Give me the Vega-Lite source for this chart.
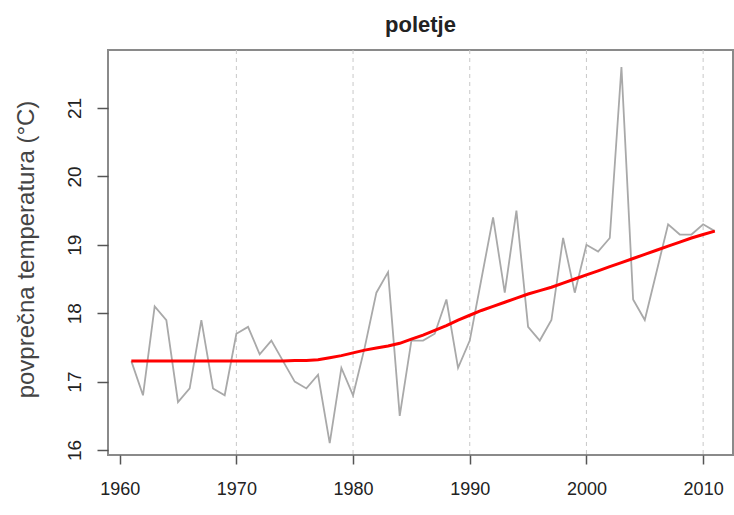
{
  "$schema": "https://vega.github.io/schema/vega-lite/v6.json",
  "width": 625,
  "height": 405,
  "autosize": {"type": "none"},
  "padding": {"left": 108, "top": 50, "right": 1, "bottom": 60},
  "background": "white",
  "config": {
    "font": "Liberation Sans",
    "view": {"stroke": "#8a8a8a", "strokeWidth": 2}
  },
  "title": {
    "text": "poletje",
    "fontSize": 22,
    "fontWeight": "bold",
    "color": "#222",
    "baseline": "alphabetic",
    "offset": 18,
    "dy": 22,
    "anchor": "middle"
  },
  "datasets": {
    "grid": [{"year": 1970}, {"year": 1980}, {"year": 1990}, {"year": 2000}, {"year": 2010}],
    "temps": [
      {"year": 1961, "temp": 17.3, "trend": 17.3},
      {"year": 1962, "temp": 16.8, "trend": 17.3},
      {"year": 1963, "temp": 18.1, "trend": 17.3},
      {"year": 1964, "temp": 17.9, "trend": 17.3},
      {"year": 1965, "temp": 16.7, "trend": 17.3},
      {"year": 1966, "temp": 16.9, "trend": 17.3},
      {"year": 1967, "temp": 17.9, "trend": 17.3},
      {"year": 1968, "temp": 16.9, "trend": 17.3},
      {"year": 1969, "temp": 16.8, "trend": 17.3},
      {"year": 1970, "temp": 17.7, "trend": 17.3},
      {"year": 1971, "temp": 17.8, "trend": 17.3},
      {"year": 1972, "temp": 17.4, "trend": 17.3},
      {"year": 1973, "temp": 17.6, "trend": 17.3},
      {"year": 1974, "temp": 17.3, "trend": 17.3},
      {"year": 1975, "temp": 17.0, "trend": 17.31},
      {"year": 1976, "temp": 16.9, "trend": 17.31},
      {"year": 1977, "temp": 17.1, "trend": 17.32},
      {"year": 1978, "temp": 16.1, "trend": 17.35},
      {"year": 1979, "temp": 17.2, "trend": 17.38},
      {"year": 1980, "temp": 16.8, "trend": 17.42},
      {"year": 1981, "temp": 17.5, "trend": 17.46},
      {"year": 1982, "temp": 18.3, "trend": 17.49},
      {"year": 1983, "temp": 18.6, "trend": 17.52},
      {"year": 1984, "temp": 16.5, "trend": 17.56},
      {"year": 1985, "temp": 17.6, "trend": 17.62},
      {"year": 1986, "temp": 17.6, "trend": 17.68},
      {"year": 1987, "temp": 17.7, "trend": 17.75},
      {"year": 1988, "temp": 18.2, "trend": 17.82},
      {"year": 1989, "temp": 17.2, "trend": 17.9},
      {"year": 1990, "temp": 17.6, "trend": 17.97},
      {"year": 1991, "temp": 18.5, "trend": 18.04},
      {"year": 1992, "temp": 19.4, "trend": 18.1},
      {"year": 1993, "temp": 18.3, "trend": 18.16},
      {"year": 1994, "temp": 19.5, "trend": 18.22},
      {"year": 1995, "temp": 17.8, "trend": 18.28},
      {"year": 1996, "temp": 17.6, "trend": 18.33},
      {"year": 1997, "temp": 17.9, "trend": 18.38},
      {"year": 1998, "temp": 19.1, "trend": 18.44},
      {"year": 1999, "temp": 18.3, "trend": 18.5},
      {"year": 2000, "temp": 19.0, "trend": 18.56},
      {"year": 2001, "temp": 18.9, "trend": 18.62},
      {"year": 2002, "temp": 19.1, "trend": 18.68},
      {"year": 2003, "temp": 21.6, "trend": 18.74},
      {"year": 2004, "temp": 18.2, "trend": 18.8},
      {"year": 2005, "temp": 17.9, "trend": 18.86},
      {"year": 2006, "temp": 18.6, "trend": 18.92},
      {"year": 2007, "temp": 19.3, "trend": 18.98},
      {"year": 2008, "temp": 19.15, "trend": 19.04},
      {"year": 2009, "temp": 19.15, "trend": 19.1},
      {"year": 2010, "temp": 19.3, "trend": 19.15},
      {"year": 2011, "temp": 19.2, "trend": 19.2}
    ]
  },
  "encoding": {
    "x": {
      "field": "year",
      "type": "quantitative",
      "scale": {"domain": [1959, 2012.56], "nice": false, "zero": false},
      "axis": {
        "title": null,
        "values": [1960, 1970, 1980, 1990, 2000, 2010],
        "format": "d",
        "grid": false,
        "domain": false,
        "tickSize": 9,
        "tickWidth": 1.5,
        "tickColor": "#555",
        "labelPadding": 16,
        "labelBaseline": "top",
        "labelFontSize": 18,
        "labelColor": "#222",
        "labelFlush": false
      }
    }
  },
  "layer": [
    {
      "data": {"name": "grid"},
      "mark": {"type": "rule", "color": "#c8c8c8", "strokeDash": [4, 4], "strokeWidth": 1}
    },
    {
      "data": {"name": "temps"},
      "transform": [{"fold": ["temp", "trend"], "as": ["series", "value"]}],
      "mark": {"type": "line"},
      "encoding": {
        "y": {
          "field": "value",
          "type": "quantitative",
          "scale": {"domain": [15.927, 21.848], "nice": false, "zero": false},
          "axis": {
            "title": "povprečna temperatura (°C)",
            "titleFontSize": 24,
            "titleFontWeight": "normal",
            "titleColor": "#444",
            "titleAngle": 270,
            "titleAlign": "center",
            "titleBaseline": "bottom",
            "titleX": -70,
            "titleY": 199,
            "values": [16, 17, 18, 19, 20, 21],
            "format": "d",
            "grid": false,
            "domain": false,
            "tickSize": 11,
            "tickWidth": 1.5,
            "tickColor": "#555",
            "labelAngle": 270,
            "labelAlign": "center",
            "labelBaseline": "bottom",
            "labelPadding": 13,
            "labelFontSize": 19,
            "labelColor": "#222",
            "labelFlush": false
          }
        },
        "color": {
          "field": "series",
          "type": "nominal",
          "scale": {"domain": ["temp", "trend"], "range": ["#a9a9a9", "#ff0000"]},
          "legend": null
        },
        "strokeWidth": {
          "field": "series",
          "type": "nominal",
          "scale": {"domain": ["temp", "trend"], "range": [1.8, 3]},
          "legend": null
        },
        "order": {"field": "year", "type": "quantitative"}
      }
    }
  ]
}
